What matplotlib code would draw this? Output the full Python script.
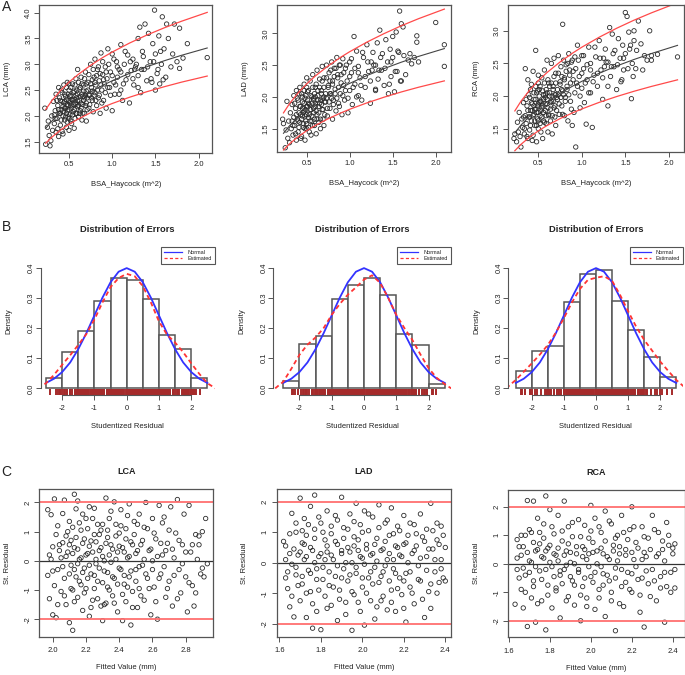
import matplotlib
matplotlib.use('Agg')
import matplotlib.pyplot as plt
from matplotlib.lines import Line2D

# ---- Fila A: diámetro coronario vs superficie corporal ----
lca_points = [
    (0.22, 2.15), (0.23, 1.45), (0.25, 1.78), (0.26, 1.9), (0.27, 1.62), (0.28, 1.42), (0.29, 1.52),
    (0.3, 2.0), (0.31, 1.72), (0.32, 2.28), (0.33, 1.85), (0.34, 2.1), (0.35, 1.68), (0.35, 2.42),
    (0.36, 1.95), (0.37, 2.2), (0.38, 1.6), (0.38, 2.55), (0.39, 2.05), (0.4, 1.82), (0.4, 2.3),
    (0.41, 2.12), (0.42, 2.45), (0.42, 1.7), (0.43, 2.0), (0.44, 2.25), (0.44, 2.6), (0.45, 1.92),
    (0.45, 2.15), (0.46, 2.38), (0.47, 1.78), (0.47, 2.05), (0.48, 2.22), (0.48, 2.65), (0.49, 1.98),
    (0.5, 2.3), (0.5, 2.12), (0.5, 1.72), (0.5, 2.5), (0.51, 2.02), (0.52, 2.4), (0.52, 2.2),
    (0.53, 1.85), (0.54, 2.62), (0.54, 2.3), (0.55, 2.08), (0.56, 1.76), (0.56, 2.48), (0.57, 2.25),
    (0.58, 2.05), (0.58, 2.72), (0.59, 2.35), (0.6, 2.18), (0.6, 2.9), (0.61, 1.98), (0.62, 2.52),
    (0.62, 2.3), (0.63, 2.1), (0.64, 2.75), (0.65, 2.42), (0.65, 1.92), (0.66, 2.22), (0.67, 2.6),
    (0.68, 2.35), (0.68, 2.05), (0.69, 2.85), (0.7, 2.48), (0.7, 2.25), (0.7, 1.9), (0.72, 2.65),
    (0.73, 2.15), (0.74, 2.4), (0.75, 3.0), (0.76, 2.55), (0.77, 2.3), (0.78, 2.08), (0.79, 2.75),
    (0.8, 3.1), (0.8, 2.45), (0.81, 2.6), (0.82, 2.2), (0.83, 2.9), (0.84, 2.35), (0.85, 2.68),
    (0.86, 2.05), (0.87, 3.22), (0.88, 2.5), (0.89, 2.8), (0.9, 2.3), (0.91, 2.62), (0.92, 2.95),
    (0.93, 2.15), (0.94, 2.72), (0.95, 3.3), (0.97, 2.55), (0.98, 2.85), (1.0, 2.1), (1.0, 3.2),
    (1.02, 2.65), (1.03, 2.42), (1.05, 3.05), (1.06, 2.75), (1.08, 2.9), (1.1, 3.38), (1.1, 2.5),
    (1.12, 2.3), (1.14, 3.0), (1.16, 2.7), (1.18, 3.18), (1.2, 2.25), (1.22, 2.88), (1.24, 3.1),
    (1.25, 2.6), (1.27, 2.95), (1.3, 3.5), (1.3, 2.78), (1.32, 3.72), (1.33, 2.45), (1.35, 3.25),
    (1.37, 2.9), (1.38, 3.78), (1.4, 2.68), (1.42, 3.6), (1.44, 3.05), (1.45, 2.72), (1.47, 3.4),
    (1.49, 4.05), (1.5, 2.5), (1.5, 3.2), (1.52, 2.82), (1.54, 3.55), (1.55, 2.62), (1.57, 3.0),
    (1.58, 3.92), (1.6, 3.3), (1.62, 2.75), (1.63, 3.78), (1.65, 3.5), (1.68, 2.95), (1.7, 3.2),
    (1.72, 3.78), (1.75, 3.05), (1.78, 3.7), (1.78, 2.92), (1.82, 3.12), (1.87, 3.4), (2.1, 3.13),
]
lca_points_extra = [
    (0.33, 2.02), (0.34, 1.95), (0.36, 2.3), (0.37, 1.75), (0.38, 2.12), (0.39, 2.35), (0.4, 2.05),
    (0.41, 1.92), (0.41, 2.5), (0.42, 2.28), (0.43, 2.18), (0.43, 1.65), (0.44, 2.08), (0.45, 2.42),
    (0.45, 2.28), (0.46, 1.98), (0.46, 2.15), (0.47, 2.55), (0.47, 2.32), (0.48, 1.88), (0.48, 2.1),
    (0.49, 2.42), (0.49, 2.2), (0.5, 1.95), (0.5, 2.62), (0.51, 2.25), (0.51, 2.38), (0.52, 1.9),
    (0.52, 2.55), (0.53, 2.15), (0.53, 2.32), (0.54, 2.02), (0.55, 2.45), (0.55, 2.22), (0.56, 2.12),
    (0.56, 2.32), (0.57, 1.95), (0.57, 2.6), (0.58, 2.4), (0.58, 2.22), (0.59, 2.05), (0.59, 2.5),
    (0.6, 2.3), (0.6, 2.42), (0.61, 2.2), (0.61, 2.65), (0.62, 2.05), (0.63, 2.38), (0.63, 2.55),
    (0.64, 2.25), (0.64, 2.15), (0.65, 2.62), (0.66, 2.38), (0.66, 2.05), (0.67, 2.3), (0.67, 2.48),
    (0.68, 2.72), (0.69, 2.2), (0.69, 2.4), (0.7, 2.62), (0.71, 2.35), (0.71, 2.12), (0.72, 2.5),
    (0.73, 2.8), (0.73, 2.4), (0.74, 2.22), (0.75, 2.62), (0.76, 2.35), (0.77, 2.7), (0.77, 2.48),
    (0.78, 2.9), (0.79, 2.4), (0.8, 2.65), (0.81, 2.3), (0.82, 2.78), (0.83, 2.5), (0.84, 2.95),
    (0.85, 2.4), (0.86, 2.82), (0.87, 2.6), (0.88, 2.25), (0.89, 3.05), (0.9, 2.7), (0.92, 2.45),
    (0.93, 2.85), (0.95, 2.55), (0.96, 3.0), (0.98, 2.4), (1.0, 2.78), (1.02, 3.1), (1.04, 2.6),
    (1.06, 2.95), (1.08, 2.42), (1.1, 2.85), (1.13, 2.62), (1.15, 3.25), (1.18, 2.8), (1.21, 3.05),
    (1.24, 2.72), (1.26, 2.9), (1.28, 3.0), (1.3, 2.55), (1.34, 2.9), (1.36, 3.15), (1.41, 2.95),
    (1.46, 2.65), (1.48, 3.05), (1.53, 2.9), (1.56, 3.25), (1.59, 2.7),
]
lad_points = [
    (0.22, 1.65), (0.23, 1.58), (0.25, 1.2), (0.26, 1.48), (0.27, 1.93), (0.28, 1.35), (0.29, 1.62),
    (0.3, 1.28), (0.31, 1.75), (0.32, 1.5), (0.33, 1.88), (0.34, 1.4), (0.35, 1.68), (0.35, 2.02),
    (0.36, 1.55), (0.37, 1.82), (0.38, 1.32), (0.38, 2.1), (0.39, 1.65), (0.4, 1.95), (0.4, 1.45),
    (0.41, 1.75), (0.42, 2.15), (0.42, 1.6), (0.43, 1.85), (0.44, 1.38), (0.44, 2.05), (0.45, 1.7),
    (0.45, 1.92), (0.46, 1.52), (0.47, 2.2), (0.47, 1.78), (0.48, 1.32), (0.48, 1.98), (0.49, 1.62),
    (0.5, 2.3), (0.5, 1.85), (0.5, 1.72), (0.5, 1.5), (0.51, 2.08), (0.52, 1.68), (0.52, 1.9),
    (0.53, 1.45), (0.54, 2.25), (0.54, 1.8), (0.55, 1.4), (0.56, 2.0), (0.56, 1.62), (0.57, 2.35),
    (0.58, 1.75), (0.58, 1.95), (0.59, 1.55), (0.6, 2.15), (0.6, 1.85), (0.61, 1.42), (0.62, 2.42),
    (0.62, 1.72), (0.63, 2.02), (0.64, 1.6), (0.65, 2.28), (0.65, 1.9), (0.66, 1.5), (0.67, 2.1),
    (0.68, 1.8), (0.68, 2.48), (0.69, 1.65), (0.7, 2.0), (0.7, 2.3), (0.7, 1.55), (0.72, 1.92),
    (0.73, 2.5), (0.74, 1.7), (0.75, 2.15), (0.76, 2.38), (0.77, 1.82), (0.78, 2.05), (0.79, 2.55),
    (0.8, 1.65), (0.8, 2.25), (0.81, 1.95), (0.82, 2.45), (0.83, 2.12), (0.84, 1.78), (0.85, 2.62),
    (0.86, 2.3), (0.87, 1.9), (0.88, 2.5), (0.89, 2.05), (0.9, 2.35), (0.91, 1.72), (0.92, 2.6),
    (0.93, 2.18), (0.94, 1.95), (0.95, 2.45), (0.97, 2.25), (0.98, 1.75), (1.0, 2.55), (1.0, 2.1),
    (1.02, 2.38), (1.03, 1.88), (1.05, 2.95), (1.06, 2.2), (1.08, 2.72), (1.1, 2.02), (1.1, 2.48),
    (1.12, 2.3), (1.14, 1.95), (1.16, 2.62), (1.18, 2.15), (1.2, 2.82), (1.22, 2.4), (1.24, 1.9),
    (1.25, 2.55), (1.27, 2.7), (1.3, 2.1), (1.3, 2.5), (1.32, 2.85), (1.33, 2.28), (1.35, 3.05),
    (1.37, 2.42), (1.38, 2.68), (1.4, 2.18), (1.42, 2.9), (1.44, 2.55), (1.45, 2.05), (1.47, 2.75),
    (1.48, 2.32), (1.5, 2.95), (1.5, 2.62), (1.52, 2.08), (1.54, 3.02), (1.55, 2.4), (1.57, 2.7),
    (1.58, 3.35), (1.6, 3.15), (1.6, 2.25), (1.62, 3.1), (1.63, 2.65), (1.65, 2.35), (1.68, 2.58),
    (1.7, 2.68), (1.72, 2.52), (1.75, 2.62), (1.78, 2.96), (1.78, 2.86), (1.8, 2.55), (2.0, 3.17),
    (2.1, 2.82), (2.1, 2.48),
]
lad_points_extra = [
    (0.33, 1.62), (0.34, 1.55), (0.36, 1.9), (0.37, 1.42), (0.38, 1.72), (0.39, 1.98), (0.4, 1.62),
    (0.41, 1.52), (0.41, 2.05), (0.42, 1.85), (0.43, 1.72), (0.43, 1.35), (0.44, 1.65), (0.45, 2.0),
    (0.45, 1.82), (0.46, 1.58), (0.46, 1.75), (0.47, 2.1), (0.47, 1.9), (0.48, 1.5), (0.48, 1.7),
    (0.49, 2.02), (0.49, 1.8), (0.5, 1.58), (0.5, 2.15), (0.51, 1.85), (0.51, 1.95), (0.52, 1.52),
    (0.52, 2.1), (0.53, 1.72), (0.53, 1.88), (0.54, 1.62), (0.55, 2.02), (0.55, 1.8), (0.56, 1.7),
    (0.56, 1.9), (0.57, 1.55), (0.57, 2.15), (0.58, 1.98), (0.58, 1.82), (0.59, 1.65), (0.59, 2.05),
    (0.6, 1.9), (0.6, 2.0), (0.61, 1.78), (0.61, 2.2), (0.62, 1.65), (0.63, 1.95), (0.63, 2.1),
    (0.64, 1.85), (0.64, 1.75), (0.65, 2.15), (0.66, 1.95), (0.66, 1.65), (0.67, 1.88), (0.67, 2.05),
    (0.68, 2.25), (0.69, 1.8), (0.69, 1.98), (0.7, 2.15), (0.71, 1.92), (0.71, 1.72), (0.72, 2.05),
    (0.73, 2.3), (0.73, 1.98), (0.74, 1.82), (0.75, 2.18), (0.76, 1.92), (0.77, 2.25), (0.77, 2.05),
    (0.78, 2.42), (0.79, 1.98), (0.8, 2.2), (0.81, 1.88), (0.82, 2.32), (0.83, 2.05), (0.84, 2.45),
    (0.85, 1.98), (0.86, 2.35), (0.87, 2.15), (0.88, 1.85), (0.89, 2.5), (0.9, 2.22), (0.92, 2.02),
    (0.93, 2.38), (0.95, 2.1), (0.96, 2.5), (0.98, 1.98), (1.0, 2.32), (1.02, 2.6), (1.04, 2.15),
    (1.06, 2.45), (1.08, 2.0), (1.1, 2.38), (1.13, 2.18), (1.15, 2.7), (1.18, 2.32), (1.21, 2.55),
    (1.24, 2.25), (1.26, 2.42), (1.28, 2.5), (1.3, 2.12), (1.34, 2.42), (1.36, 2.62), (1.41, 2.45),
    (1.46, 2.2), (1.48, 2.55), (1.53, 2.4), (1.56, 2.72), (1.59, 2.25),
]
rca_points = [
    (0.22, 1.35), (0.23, 1.42), (0.25, 1.3), (0.26, 1.6), (0.27, 1.45), (0.28, 1.75), (0.29, 1.38),
    (0.3, 1.22), (0.31, 1.65), (0.32, 1.52), (0.33, 1.9), (0.34, 1.42), (0.35, 1.7), (0.35, 2.42),
    (0.36, 1.58), (0.37, 1.85), (0.38, 1.35), (0.38, 2.25), (0.39, 1.68), (0.4, 1.98), (0.4, 1.48),
    (0.41, 1.78), (0.42, 2.18), (0.42, 1.62), (0.43, 1.88), (0.44, 1.4), (0.44, 2.38), (0.45, 1.72),
    (0.45, 1.95), (0.46, 1.55), (0.47, 2.7), (0.47, 1.8), (0.48, 1.3), (0.48, 2.05), (0.49, 1.65),
    (0.5, 2.32), (0.5, 1.88), (0.5, 1.75), (0.5, 1.5), (0.51, 2.1), (0.52, 1.7), (0.52, 1.92),
    (0.53, 1.45), (0.54, 2.28), (0.54, 1.82), (0.55, 1.35), (0.56, 2.02), (0.56, 1.62), (0.57, 2.4),
    (0.58, 1.78), (0.58, 1.98), (0.59, 1.58), (0.6, 2.55), (0.6, 1.88), (0.61, 1.45), (0.62, 2.2),
    (0.62, 1.72), (0.63, 2.05), (0.64, 1.62), (0.65, 2.5), (0.65, 1.92), (0.66, 1.42), (0.67, 2.15),
    (0.68, 1.82), (0.68, 2.58), (0.69, 1.68), (0.7, 2.02), (0.7, 2.35), (0.7, 1.55), (0.72, 1.95),
    (0.73, 2.62), (0.74, 1.72), (0.75, 2.18), (0.76, 2.45), (0.77, 1.85), (0.78, 3.1), (0.78, 2.08),
    (0.79, 2.55), (0.8, 1.7), (0.8, 2.28), (0.81, 1.98), (0.82, 2.48), (0.83, 2.15), (0.84, 1.62),
    (0.85, 2.65), (0.86, 2.32), (0.87, 1.92), (0.88, 2.52), (0.89, 1.55), (0.9, 2.38), (0.91, 1.75),
    (0.92, 2.6), (0.93, 1.22), (0.94, 2.2), (0.95, 2.78), (0.97, 2.3), (0.98, 1.82), (1.0, 2.62),
    (1.0, 2.12), (1.02, 2.42), (1.03, 1.9), (1.05, 1.57), (1.06, 2.25), (1.08, 2.75), (1.1, 2.05),
    (1.1, 2.5), (1.12, 1.52), (1.14, 2.32), (1.16, 2.6), (1.18, 2.15), (1.2, 2.85), (1.22, 2.4),
    (1.24, 1.95), (1.25, 2.58), (1.27, 2.72), (1.3, 1.85), (1.3, 2.52), (1.32, 3.05), (1.33, 2.3),
    (1.35, 2.95), (1.37, 2.45), (1.38, 2.7), (1.4, 2.1), (1.42, 2.88), (1.44, 2.58), (1.45, 2.22),
    (1.47, 2.78), (1.48, 2.4), (1.5, 3.28), (1.5, 2.65), (1.52, 3.22), (1.54, 2.98), (1.55, 2.72),
    (1.57, 1.96), (1.58, 2.5), (1.6, 3.0), (1.6, 2.85), (1.62, 2.42), (1.63, 2.7), (1.65, 3.15),
    (1.68, 2.8), (1.7, 2.4), (1.72, 2.62), (1.75, 2.55), (1.78, 3.0), (1.8, 2.62), (1.8, 2.55),
    (1.87, 2.64), (2.1, 2.6),
]
rca_points_extra = [
    (0.33, 1.68), (0.34, 1.5), (0.36, 1.95), (0.37, 1.38), (0.38, 1.78), (0.39, 2.02), (0.4, 1.68),
    (0.41, 1.55), (0.41, 2.1), (0.42, 1.9), (0.43, 1.78), (0.43, 1.32), (0.44, 1.7), (0.45, 2.05),
    (0.45, 1.85), (0.46, 1.62), (0.46, 1.8), (0.47, 2.15), (0.47, 1.95), (0.48, 1.55), (0.48, 1.75),
    (0.49, 2.08), (0.49, 1.85), (0.5, 1.62), (0.5, 2.2), (0.51, 1.9), (0.51, 2.0), (0.52, 1.58),
    (0.52, 2.15), (0.53, 1.78), (0.53, 1.92), (0.54, 1.68), (0.55, 2.08), (0.55, 1.85), (0.56, 1.75),
    (0.56, 1.95), (0.57, 1.6), (0.57, 2.2), (0.58, 2.02), (0.58, 1.88), (0.59, 1.7), (0.59, 2.1),
    (0.6, 1.95), (0.6, 2.05), (0.61, 1.82), (0.61, 2.25), (0.62, 1.7), (0.63, 2.0), (0.63, 2.15),
    (0.64, 1.9), (0.64, 1.8), (0.65, 2.2), (0.66, 2.0), (0.66, 1.7), (0.67, 1.92), (0.67, 2.1),
    (0.68, 2.3), (0.69, 1.85), (0.69, 2.02), (0.7, 2.2), (0.71, 1.98), (0.71, 1.78), (0.72, 2.1),
    (0.73, 2.35), (0.73, 2.02), (0.74, 1.88), (0.75, 2.22), (0.76, 1.98), (0.77, 2.3), (0.77, 2.1),
    (0.78, 1.72), (0.79, 2.02), (0.8, 2.25), (0.81, 1.92), (0.82, 2.38), (0.83, 2.1), (0.84, 2.5),
    (0.85, 2.02), (0.86, 2.4), (0.87, 2.2), (0.88, 1.8), (0.89, 2.55), (0.9, 2.25), (0.92, 2.05),
    (0.93, 2.42), (0.95, 2.15), (0.96, 2.55), (0.98, 2.0), (1.0, 2.35), (1.02, 2.62), (1.04, 2.2),
    (1.06, 2.48), (1.08, 2.05), (1.1, 2.4), (1.13, 2.22), (1.15, 2.75), (1.18, 2.35), (1.21, 2.58),
    (1.24, 2.28), (1.26, 2.45), (1.28, 2.52), (1.3, 2.15), (1.34, 2.45), (1.36, 2.65), (1.41, 2.48),
    (1.46, 2.25), (1.48, 2.58), (1.53, 2.42), (1.56, 2.78), (1.59, 2.3),
]

# curvas de ajuste y bandas de predicción
fit_x = [0.23, 0.3, 0.4, 0.5, 0.6, 0.75, 0.9, 1.0, 1.2, 1.4, 1.6, 1.8, 2.1]
lca_fit = [1.758, 1.897, 2.060, 2.197, 2.314, 2.467, 2.600, 2.680, 2.824, 2.952, 3.067, 3.173, 3.316]
lca_upper = [2.124, 2.292, 2.488, 2.654, 2.795, 2.980, 3.141, 3.237, 3.411, 3.566, 3.705, 3.833, 4.006]
lca_lower = [1.470, 1.586, 1.722, 1.837, 1.934, 2.062, 2.174, 2.240, 2.361, 2.468, 2.564, 2.653, 2.772]
lad_fit = [1.428, 1.546, 1.684, 1.800, 1.901, 2.031, 2.145, 2.213, 2.336, 2.446, 2.546, 2.637, 2.760]
lad_upper = [1.749, 1.894, 2.063, 2.205, 2.329, 2.488, 2.628, 2.711, 2.862, 2.996, 3.119, 3.230, 3.381]
lad_lower = [1.165, 1.262, 1.374, 1.469, 1.551, 1.657, 1.750, 1.806, 1.906, 1.996, 2.078, 2.152, 2.252]
rca_fit = [1.436, 1.555, 1.694, 1.811, 1.912, 2.043, 2.157, 2.226, 2.350, 2.461, 2.561, 2.652, 2.777]
rca_upper = [1.773, 1.920, 2.092, 2.237, 2.361, 2.523, 2.664, 2.749, 2.902, 3.039, 3.163, 3.275, 3.430]
rca_lower = [1.163, 1.260, 1.372, 1.467, 1.549, 1.655, 1.747, 1.803, 1.904, 1.993, 2.074, 2.148, 2.249]

# ---- Fila C: residuos estudentizados vs valor ajustado ----
lca_resid = [
    (1.97, -0.5), (1.97, 1.75), (1.98, 0.2), (1.98, -1.3), (1.99, 1.58), (2.0, -1.85), (2.0, 0.48),
    (2.01, 2.12), (2.01, -0.85), (2.02, -1.95), (2.03, 1.2), (2.03, -0.3), (2.04, 0.55), (2.05, -1.05),
    (2.05, 0.1), (2.06, 1.62), (2.07, -0.6), (2.07, 2.08), (2.08, 0.85), (2.08, -1.5), (2.09, 0.3),
    (2.1, -2.12), (2.1, 1.35), (2.11, -0.15), (2.11, 0.7), (2.12, -2.38), (2.12, -1.0), (2.13, 2.28),
    (2.13, 0.45), (2.14, 1.78), (2.14, -0.55), (2.15, -1.25), (2.15, 2.05), (2.16, 0.05), (2.17, 1.05),
    (2.17, -0.82), (2.18, -1.7), (2.18, 0.6), (2.19, -0.25), (2.2, 1.45), (2.2, -0.95), (2.21, 0.25),
    (2.22, -1.9), (2.22, 1.85), (2.23, 0.68), (2.23, -0.45), (2.24, -1.35), (2.25, 0.9), (2.25, 1.8),
    (2.26, -0.1), (2.27, -0.7), (2.27, 1.25), (2.28, 0.35), (2.29, -1.55), (2.29, 1.05), (2.3, -2.05),
    (2.3, 0.15), (2.31, -0.35), (2.32, 2.15), (2.32, -1.45), (2.33, 0.8), (2.33, -0.9), (2.34, 1.45),
    (2.35, -0.05), (2.35, 0.55), (2.36, -1.2), (2.37, 2.02), (2.37, -0.6), (2.38, 1.25), (2.39, 0.3),
    (2.39, -1.75), (2.4, 0.95), (2.4, -0.25), (2.41, 1.75), (2.42, -2.05), (2.42, 0.45), (2.43, -0.8),
    (2.44, 1.1), (2.44, -1.4), (2.45, 0.1), (2.46, 1.95), (2.46, -0.55), (2.47, -2.2), (2.47, 0.65),
    (2.48, -1.05), (2.49, 1.35), (2.5, 0.25), (2.5, -0.3), (2.51, -1.6), (2.52, 1.6), (2.52, -0.95),
    (2.53, 0.55), (2.54, -0.15), (2.55, 1.15), (2.55, -1.35), (2.56, 2.0), (2.57, -0.6), (2.58, 0.35),
    (2.59, -1.85), (2.6, 1.45), (2.6, 0.0), (2.61, -0.9), (2.62, 0.75), (2.63, -2.0), (2.64, 1.9),
    (2.65, -0.45), (2.66, 0.2), (2.67, 1.5), (2.68, -1.25), (2.69, 0.6), (2.7, -0.7), (2.71, 1.85),
    (2.72, -1.55), (2.73, 0.1), (2.74, 0.95), (2.75, 2.1), (2.76, -0.3), (2.77, -1.1), (2.78, 0.55),
    (2.79, 1.6), (2.8, -0.55), (2.81, -1.75), (2.82, 1.9), (2.83, 0.3), (2.84, -0.85), (2.85, -1.55),
    (2.86, 0.9), (2.87, 0.05), (2.88, 0.55), (2.89, -0.45), (2.9, 1.0), (2.91, -0.55), (2.92, 1.45),
    (2.93, -0.1),
]
lca_resid_extra = [
    (1.99, 0.05), (2.0, -0.35), (2.02, 0.9), (2.03, -1.5), (2.04, 0.35), (2.06, -0.2), (2.06, 0.62),
    (2.07, -1.2), (2.08, 0.15), (2.09, 1.0), (2.1, -0.45), (2.1, 0.55), (2.11, -0.95), (2.12, 0.25),
    (2.12, 1.15), (2.13, -0.3), (2.13, -1.4), (2.14, 0.8), (2.15, -0.1), (2.15, 0.4), (2.16, -0.7),
    (2.16, 1.3), (2.17, 0.1), (2.18, -0.4), (2.18, 1.6), (2.19, 0.75), (2.19, -1.1), (2.2, 0.2),
    (2.21, -0.6), (2.21, 1.1), (2.22, -0.15), (2.22, 0.5), (2.23, -1.6), (2.24, 0.3), (2.24, 1.45),
    (2.25, -0.5), (2.25, -0.95), (2.26, 0.65), (2.26, 0.05), (2.27, -1.3), (2.28, 0.9), (2.28, -0.25),
    (2.29, 0.45), (2.3, -0.75), (2.3, 1.25), (2.31, 0.0), (2.31, -1.5), (2.32, 0.6), (2.33, -0.4),
    (2.33, 1.05), (2.34, -1.0), (2.34, 0.2), (2.35, 1.7), (2.36, -0.55), (2.36, 0.4), (2.37, -1.45),
    (2.38, 0.05), (2.38, 0.85), (2.39, -0.8), (2.4, 0.5), (2.41, -0.3), (2.41, 1.2), (2.42, -1.15),
    (2.43, 0.3), (2.43, -0.5), (2.44, 0.75), (2.45, -0.9), (2.45, 1.55), (2.46, 0.15), (2.47, -0.35),
    (2.48, 0.55), (2.48, -1.6), (2.49, 0.9), (2.5, -0.7), (2.51, 0.35), (2.51, 1.25), (2.52, -0.2),
    (2.53, -1.2), (2.54, 0.7), (2.55, 0.05), (2.56, -0.45), (2.57, 1.1), (2.58, -0.95), (2.59, 0.4),
    (2.6, -0.3), (2.61, 0.95), (2.62, -1.4), (2.63, 0.15), (2.64, -0.6), (2.65, 0.6), (2.66, 1.3),
    (2.67, -0.2), (2.68, 0.35), (2.69, -0.95), (2.7, 1.05), (2.72, 0.4), (2.73, -0.5), (2.75, -1.3),
    (2.76, 0.7), (2.78, -0.1), (2.8, 0.3), (2.82, -0.75), (2.84, 0.55), (2.86, -1.1), (2.88, 0.85),
    (2.9, -0.25),
]
lad_resid = [
    (1.62, 0.7), (1.63, -0.5), (1.63, 0.55), (1.64, -0.85), (1.65, -1.45), (1.65, 0.3), (1.66, 1.62),
    (1.66, -0.05), (1.67, -1.78), (1.68, 1.0), (1.68, -0.4), (1.69, 0.25), (1.7, 2.12), (1.7, -1.25),
    (1.71, 0.65), (1.71, -0.7), (1.72, 1.45), (1.72, 0.1), (1.73, -1.8), (1.73, 0.9), (1.74, -0.25),
    (1.75, 1.85), (1.75, -0.95), (1.76, -2.15), (1.76, 0.4), (1.77, 2.22), (1.77, 1.1), (1.78, -0.55),
    (1.78, -1.6), (1.79, 0.2), (1.8, -2.2), (1.8, 1.3), (1.81, -0.15), (1.82, 0.75), (1.82, -1.1),
    (1.83, 1.7), (1.83, 0.35), (1.84, -0.75), (1.85, -1.4), (1.85, 0.95), (1.86, 0.1), (1.87, -0.45),
    (1.87, 1.55), (1.88, 0.6), (1.88, -1.9), (1.89, -0.9), (1.9, 2.15), (1.9, 0.3), (1.91, -0.2),
    (1.91, 1.15), (1.92, -1.3), (1.93, 0.5), (1.93, -0.6), (1.94, 1.6), (1.95, -2.22), (1.95, 0.0),
    (1.96, 0.85), (1.96, -1.05), (1.97, 1.95), (1.97, -0.35), (1.98, 0.4), (1.99, -1.6), (1.99, 1.25),
    (2.0, -0.8), (2.0, 0.15), (2.01, -2.05), (2.01, 1.7), (2.02, 0.6), (2.03, -0.5), (2.03, 1.05),
    (2.04, -1.25), (2.05, 0.3), (2.05, 1.5), (2.06, -0.15), (2.06, -1.85), (2.07, 0.8), (2.08, 1.9),
    (2.08, -0.65), (2.09, -1.25), (2.1, 0.45), (2.1, -0.3), (2.11, 1.3), (2.12, -1.55), (2.12, 0.1),
    (2.13, 0.9), (2.14, 1.8), (2.14, -0.9), (2.15, -0.2), (2.16, 0.55), (2.16, -1.6), (2.17, 1.2),
    (2.18, -0.5), (2.18, 0.25), (2.19, -1.05), (2.2, 1.55), (2.2, 0.6), (2.21, -0.35), (2.21, -1.95),
    (2.22, 0.9), (2.23, -0.8), (2.24, 0.3), (2.25, 1.25), (2.25, -1.35), (2.26, 0.55), (2.27, -0.1),
    (2.28, 1.6), (2.28, -0.6), (2.29, 0.85), (2.3, -1.8), (2.31, 0.2), (2.31, 1.1), (2.32, -0.95),
    (2.33, 1.95), (2.33, -1.5), (2.34, 0.45), (2.35, -0.3), (2.36, 1.3), (2.36, 0.75), (2.37, -0.65),
    (2.38, 1.2), (2.38, 0.1), (2.39, -0.5), (2.4, 0.5),
]
lad_resid_extra = [
    (1.63, 0.1), (1.64, -0.3), (1.65, 0.95), (1.66, -1.1), (1.67, 0.45), (1.68, -0.15), (1.68, 1.3),
    (1.69, -0.75), (1.7, 0.35), (1.71, 1.05), (1.71, -0.45), (1.72, 0.6), (1.73, -1.0), (1.73, 0.2),
    (1.74, 1.25), (1.75, -0.35), (1.75, 0.5), (1.76, -1.35), (1.77, 0.0), (1.77, 0.8), (1.78, -0.2),
    (1.79, 1.5), (1.79, -0.9), (1.8, 0.3), (1.81, -0.55), (1.81, 1.0), (1.82, 0.1), (1.83, -1.5),
    (1.83, 0.55), (1.84, -0.3), (1.85, 1.2), (1.85, 0.25), (1.86, -0.8), (1.87, 0.7), (1.88, -0.1),
    (1.88, 1.4), (1.89, -1.2), (1.9, 0.4), (1.9, -0.5), (1.91, 0.8), (1.92, 0.0), (1.92, -1.7),
    (1.93, 1.1), (1.94, -0.4), (1.94, 0.35), (1.95, -0.95), (1.96, 0.55), (1.96, 1.35), (1.97, -0.15),
    (1.98, -1.3), (1.98, 0.75), (1.99, 0.2), (2.0, -0.5), (2.0, 1.0), (2.01, -0.05), (2.02, -1.0),
    (2.02, 0.45), (2.03, 1.6), (2.04, -0.3), (2.04, 0.25), (2.05, -0.7), (2.06, 0.6), (2.07, -1.45),
    (2.07, 0.05), (2.08, 1.15), (2.09, -0.45), (2.09, 0.4), (2.1, -1.1), (2.11, 0.7), (2.11, -0.1),
    (2.12, 1.4), (2.13, -0.6), (2.13, 0.3), (2.14, -1.3), (2.15, 0.95), (2.15, 0.1), (2.16, -0.35),
    (2.17, 0.5), (2.17, -0.85), (2.18, 1.05), (2.19, 0.2), (2.2, -0.6), (2.2, -1.5), (2.21, 0.65),
    (2.22, 0.0), (2.23, 1.3), (2.23, -0.3), (2.24, -1.0), (2.25, 0.4), (2.26, 0.95), (2.27, -0.55),
    (2.28, 0.15), (2.29, -1.2), (2.3, 0.7), (2.31, -0.25), (2.32, 0.45), (2.33, -0.7), (2.34, 1.05),
    (2.35, 0.1), (2.36, -1.0), (2.37, 0.6), (2.38, -0.2), (2.39, 0.9), (2.4, -0.6),
]
rca_resid = [
    (1.63, -1.42), (1.64, 0.85), (1.64, -0.2), (1.65, 0.6), (1.66, -0.9), (1.66, 0.3), (1.67, -1.55),
    (1.68, 1.0), (1.68, -0.4), (1.69, 2.22), (1.69, -2.2), (1.7, 0.1), (1.71, 1.1), (1.71, -1.2),
    (1.72, 2.2), (1.72, -0.6), (1.73, 0.45), (1.73, -2.05), (1.74, 1.6), (1.75, -0.25), (1.75, 0.7),
    (1.76, -1.3), (1.77, 1.4), (1.77, 0.2), (1.78, 2.38), (1.78, -2.32), (1.79, -0.75), (1.79, 0.55),
    (1.8, 1.9), (1.81, -0.1), (1.81, -1.55), (1.82, 1.05), (1.83, 0.3), (1.83, -0.85), (1.84, 1.7),
    (1.85, -0.4), (1.85, -1.9), (1.86, 0.8), (1.87, 2.2), (1.87, -0.2), (1.88, 0.45), (1.89, -1.15),
    (1.89, 1.3), (1.9, 0.05), (1.91, -0.6), (1.91, 0.95), (1.92, -1.45), (1.93, 0.35), (1.94, 1.55),
    (1.94, -0.3), (1.95, -2.0), (1.96, 0.6), (1.96, -0.8), (1.97, 1.35), (1.98, 0.15), (1.98, -1.2),
    (1.99, 0.9), (2.0, 2.05), (2.0, -0.45), (2.01, 0.4), (2.02, -1.6), (2.02, 1.6), (2.03, 0.0),
    (2.04, -0.9), (2.05, 1.1), (2.05, 0.55), (2.06, -0.35), (2.07, -1.85), (2.07, 1.85), (2.08, 0.25),
    (2.09, -0.6), (2.1, 1.4), (2.1, -1.3), (2.11, 0.65), (2.12, -2.35), (2.12, -0.15), (2.13, 1.0),
    (2.14, 0.35), (2.15, -0.8), (2.15, 1.7), (2.16, -1.5), (2.17, 0.5), (2.18, -0.3), (2.19, 1.2),
    (2.2, 2.0), (2.2, -1.0), (2.21, 0.15), (2.22, 0.75), (2.23, -0.55), (2.24, -1.7), (2.25, 1.3),
    (2.26, -2.22), (2.26, 0.4), (2.27, -0.25), (2.28, 0.9), (2.29, -1.15), (2.3, 1.7), (2.31, -0.6),
    (2.32, 0.25), (2.33, 1.1), (2.34, -0.85), (2.35, 0.5), (2.36, -2.05), (2.36, -0.3), (2.37, 1.45),
    (2.38, 0.65), (2.39, -1.0), (2.4, 0.35), (2.41, 0.7), (2.41, -0.2),
]
rca_resid_extra = [
    (1.64, 0.2), (1.65, -0.5), (1.66, 1.0), (1.67, -0.15), (1.67, 0.6), (1.68, -1.0), (1.69, 0.4),
    (1.7, -0.3), (1.7, 1.2), (1.71, 0.05), (1.72, -0.8), (1.72, 0.75), (1.73, -0.1), (1.74, 0.5),
    (1.74, -1.4), (1.75, 1.1), (1.76, 0.25), (1.76, -0.55), (1.77, 0.9), (1.78, -0.2), (1.78, 0.45),
    (1.79, -1.1), (1.8, 0.65), (1.8, 0.05), (1.81, 1.3), (1.82, -0.45), (1.82, 0.35), (1.83, -0.95),
    (1.84, 0.55), (1.84, 0.1), (1.85, -0.25), (1.86, 1.15), (1.86, -0.7), (1.87, 0.3), (1.88, -0.05),
    (1.88, -1.3), (1.89, 0.7), (1.9, -0.45), (1.9, 0.4), (1.91, 1.45), (1.92, 0.0), (1.92, -0.75),
    (1.93, 0.6), (1.94, -0.2), (1.95, 0.95), (1.95, -1.1), (1.96, 0.25), (1.97, -0.5), (1.97, 0.5),
    (1.98, -1.5), (1.99, 0.35), (1.99, -0.1), (2.0, 1.15), (2.01, -0.65), (2.01, 0.75), (2.02, -0.3),
    (2.03, 0.45), (2.04, -1.2), (2.04, 1.3), (2.05, -0.1), (2.06, 0.35), (2.06, -0.75), (2.07, 0.8),
    (2.08, -0.4), (2.09, 0.15), (2.09, 1.5), (2.1, -1.0), (2.11, 0.45), (2.12, -0.5), (2.12, 0.9),
    (2.13, 0.1), (2.14, -1.4), (2.14, 0.6), (2.15, -0.2), (2.16, 1.1), (2.17, -0.65), (2.17, 0.3),
    (2.18, 0.85), (2.19, -0.9), (2.2, 0.4), (2.2, -0.35), (2.21, 1.3), (2.22, -0.1), (2.23, 0.55),
    (2.24, -1.1), (2.25, 0.15), (2.25, -0.5), (2.26, 0.95), (2.27, 0.25), (2.28, -0.7), (2.29, 0.5),
    (2.3, -0.2), (2.31, 1.2), (2.32, -1.3), (2.33, 0.35), (2.34, -0.45), (2.35, 0.8), (2.36, 0.1),
    (2.37, -0.8), (2.38, 1.0), (2.39, -0.3), (2.4, 0.55), (2.41, -0.85),
]

# ---- Fila B: histogramas de residuos ----
breaks = [-2.5, -2.0, -1.5, -1.0, -0.5, 0.0, 0.5, 1.0, 1.5, 2.0]   # borde izquierdo de cada barra
lca_hist = [0.036, 0.119, 0.191, 0.291, 0.367, 0.359, 0.298, 0.178, 0.130, 0.036]
lad_hist = [0.024, 0.146, 0.174, 0.297, 0.343, 0.367, 0.310, 0.181, 0.143, 0.014]
rca_hist = [0.056, 0.124, 0.141, 0.286, 0.380, 0.392, 0.289, 0.192, 0.103, 0.037]

normal_x = [-2.5, -2.25, -2.0, -1.75, -1.5, -1.25, -1.0, -0.75, -0.5, -0.25, 0.0,
            0.25, 0.5, 0.75, 1.0, 1.25, 1.5, 1.75, 2.0, 2.25, 2.5]
normal_y = [0.018, 0.032, 0.054, 0.086, 0.130, 0.183, 0.242, 0.301, 0.352, 0.387, 0.399,
            0.387, 0.352, 0.301, 0.242, 0.183, 0.130, 0.086, 0.054, 0.032, 0.018]

lca_est_x = [-2.75, -2.5, -2.25, -2.0, -1.75, -1.5, -1.25, -1.0, -0.75, -0.5, -0.25, 0.0,
             0.25, 0.5, 0.75, 1.0, 1.25, 1.5, 1.75, 2.0, 2.25, 2.5, 2.75]
lca_est_y = [0.0, 0.017, 0.045, 0.078, 0.110, 0.144, 0.180, 0.228, 0.285, 0.336, 0.366, 0.380,
             0.372, 0.339, 0.285, 0.222, 0.178, 0.152, 0.120, 0.083, 0.048, 0.017, 0.0]
lad_est_x = [-2.75, -2.5, -2.25, -2.0, -1.75, -1.5, -1.25, -1.0, -0.75, -0.5, -0.25, 0.0,
             0.25, 0.5, 0.75, 1.0, 1.25, 1.5, 1.75, 2.0, 2.25, 2.5, 2.7]
lad_est_y = [0.0, 0.022, 0.065, 0.111, 0.145, 0.169, 0.200, 0.244, 0.280, 0.311, 0.335, 0.361,
             0.375, 0.350, 0.300, 0.244, 0.200, 0.160, 0.112, 0.067, 0.035, 0.014, 0.0]
rca_est_x = [-2.8, -2.5, -2.25, -2.0, -1.75, -1.5, -1.25, -1.0, -0.75, -0.5, -0.25, 0.0,
             0.25, 0.5, 0.75, 1.0, 1.25, 1.5, 1.75, 2.0, 2.25, 2.5, 2.8]
rca_est_y = [0.0, 0.028, 0.055, 0.083, 0.112, 0.144, 0.185, 0.233, 0.285, 0.330, 0.360, 0.367,
             0.372, 0.357, 0.310, 0.256, 0.205, 0.161, 0.125, 0.089, 0.058, 0.028, 0.0]

# ---- estilo ----
plt.rcParams['font.family'] = ['Liberation Sans', 'DejaVu Sans']
TXT = '#222222'
GRIS = '#555555'
FS = 5.5

W, H = 685, 675
fig = plt.figure(figsize=(W / 100, H / 100), dpi=100)


def add_ax(l, r, t, b):
    # ejes colocados en pixeles (origen arriba a la izquierda)
    ax = fig.add_axes([l / W, 1 - b / H, (r - l) / W, (b - t) / H])
    return ax, r - l, b - t


def estilo(ax, w, h, xticks, xlabs, yticks, ylabs, xlabel, ylabel, xpad, ypad, xl_dy, yl_dx):
    ax.set_xticks(xticks)
    ax.set_xticklabels(xlabs)
    ax.set_yticks(yticks)
    ax.set_yticklabels(ylabs, rotation=90, va='center')
    ax.tick_params(length=3.5, width=0.7, color=GRIS, labelsize=FS, labelcolor=TXT)
    ax.tick_params(axis='x', pad=xpad)
    ax.tick_params(axis='y', pad=ypad)
    ax.set_xlabel(xlabel, fontsize=FS, color=TXT, va='center')
    ax.xaxis.set_label_coords(0.5, -xl_dy / h)
    ax.set_ylabel(ylabel, fontsize=FS, color=TXT, va='center')
    ax.yaxis.set_label_coords(-yl_dx / w, 0.5)


def caja(ax):
    for s in ax.spines.values():
        s.set_color(GRIS)
        s.set_linewidth(0.9)


def puntos(ax, pts):
    x, y = zip(*pts)
    ax.scatter(x, y, s=10, facecolors='none', edgecolors='#2a2a2a', linewidths=0.6)


# ---------- fila A ----------
panel_a = [
    (lca_points + lca_points_extra, lca_fit, lca_upper, lca_lower, 'LCA (mm)',
     (39.3, 212.3, 4.7, 153.3), (0.156, 2.159), (1.275, 4.155), [1.5, 2.0, 2.5, 3.0, 3.5, 4.0]),
    (lad_points + lad_points_extra, lad_fit, lad_upper, lad_lower, 'LAD (mm)',
     (276.7, 450.7, 4.7, 152.3), (0.151, 2.174), (1.129, 3.45), [1.5, 2.0, 2.5, 3.0]),
    (rca_points + rca_points_extra, rca_fit, rca_upper, rca_lower, 'RCA (mm)',
     (507.7, 684.3, 4.7, 152.3), (0.148, 2.178), (1.139, 3.40), [1.5, 2.0, 2.5, 3.0]),
]
for pts, fit, up, lo, ylab, box, xl, yl, yt in panel_a:
    ax, w, h = add_ax(*box)
    puntos(ax, pts)
    ax.plot(fit_x, fit, color='#444444', lw=0.8)
    ax.plot(fit_x, up, color='#ff4a4a', lw=0.9)
    ax.plot(fit_x, lo, color='#ff4a4a', lw=0.9)
    ax.set_xlim(*xl)
    ax.set_ylim(*yl)
    caja(ax)
    estilo(ax, w, h, [0.5, 1.0, 1.5, 2.0], ['0.5', '1.0', '1.5', '2.0'],
           yt, ['%.1f' % v for v in yt], 'BSA_Haycock (m^2)', ylab, 2.3, 1.6, 31.5, 31.5)

# ---------- fila B ----------
panel_b = [
    (lca_hist, lca_est_x, lca_est_y, lca_resid + lca_resid_extra,
     (40.7, 214.5, 247.3, 395), (-2.663, 2.72)),
    (lad_hist, lad_est_x, lad_est_y, lad_resid + lad_resid_extra,
     (273.3, 450.7, 247.3, 395), (-2.808, 2.684)),
    (rca_hist, rca_est_x, rca_est_y, rca_resid + rca_resid_extra,
     (508.3, 683.3, 247.3, 395), (-2.732, 2.72)),
]
for hist, ex, ey, resid, box, xl in panel_b:
    ax, w, h = add_ax(*box)
    ax.bar(breaks, hist, width=0.5, align='edge', facecolor='white', edgecolor=GRIS, linewidth=1.1)
    r = [p[1] for p in resid]
    ax.vlines(r, -0.022, -0.003, color='#a52a2a', lw=1.4)
    ax.plot(normal_x, normal_y, color='#3333ff', lw=1.3)
    ax.plot(ex, ey, color='#ff3333', lw=1.3, dashes=(2.5, 1.8))
    ax.set_xlim(*xl)
    ax.set_ylim(-0.022, 0.468)
    for s in ['top', 'right']:
        ax.spines[s].set_visible(False)
    ax.spines['left'].set_bounds(0, 0.4)
    ax.spines['bottom'].set_bounds(-2, 2)
    for s in ['left', 'bottom']:
        ax.spines[s].set_color(GRIS)
        ax.spines[s].set_linewidth(0.8)
    estilo(ax, w, h, [-2, -1, 0, 1, 2], ['-2', '-1', '0', '1', '2'],
           [0, 0.1, 0.2, 0.3, 0.4], ['0.0', '0.1', '0.2', '0.3', '0.4'],
           'Studentized Residual', 'Density', 3.7, 0.6, 31.7, 31.5)
    ax.text(0.5, 1 + 18 / h, 'Distribution of Errors', transform=ax.transAxes, ha='center',
            va='center', fontsize=6.7, fontweight='bold', color=TXT)
    handles = [Line2D([], [], color='#3333ff', lw=0.9),
               Line2D([], [], color='#ff3333', lw=0.9, dashes=(2.5, 1.8))]
    leg = ax.legend(handles, ['Normal', 'Estimated'], loc='upper right', bbox_to_anchor=(1, 1),
                    borderaxespad=0, fontsize=4, fancybox=False, edgecolor=GRIS, framealpha=1,
                    handlelength=3.2, handletextpad=0.9, borderpad=0.55, labelspacing=0.15)
    leg.get_frame().set_linewidth(0.8)
    for t in leg.get_texts():
        t.set_color(TXT)

# ---------- fila C ----------
panel_c = [
    (lca_resid + lca_resid_extra, 'LCA', (39.3, 213.3, 489.3, 636.7), (1.919, 2.966),
     (-2.60, 2.45), [2.0, 2.2, 2.4, 2.6, 2.8]),
    (lad_resid + lad_resid_extra, 'LAD', (276.7, 450.7, 489.0, 636.7), (1.587, 2.426),
     (-2.43, 2.42), [1.6, 1.8, 2.0, 2.2, 2.4]),
    (rca_resid + rca_resid_extra, 'RCA', (508.3, 684.5, 490.0, 637.3), (1.597, 2.457),
     (-2.58, 2.59), [1.6, 1.8, 2.0, 2.2, 2.4]),
]
for pts, titulo, box, xl, yl, xt in panel_c:
    ax, w, h = add_ax(*box)
    puntos(ax, pts)
    ax.axhline(0, color='#333333', lw=0.9)
    ax.axhline(2, color='#ff7070', lw=1.3)
    ax.axhline(-2, color='#ff7070', lw=1.3)
    ax.set_xlim(*xl)
    ax.set_ylim(*yl)
    caja(ax)
    estilo(ax, w, h, xt, ['%.1f' % v for v in xt], [-2, -1, 0, 1, 2],
           ['-2', '-1', '0', '1', '2'], 'Fitted Value (mm)', 'St. Residual', 4.2, 2.2, 31, 32)
    ax.text(0.5, 1 + 17.6 / h, titulo, transform=ax.transAxes, ha='center', va='center',
            fontsize=6.5, fontweight='bold', color=TXT)

# letras de cada fila
for letra, yy in [('A', 7), ('B', 226.7), ('C', 471.7)]:
    fig.text(6.5 / W, 1 - yy / H, letra, fontsize=10, ha='center', va='center', color=TXT)

fig.savefig('out.png', dpi=100)
print("✓ Figura guardada como 'out.png'")
